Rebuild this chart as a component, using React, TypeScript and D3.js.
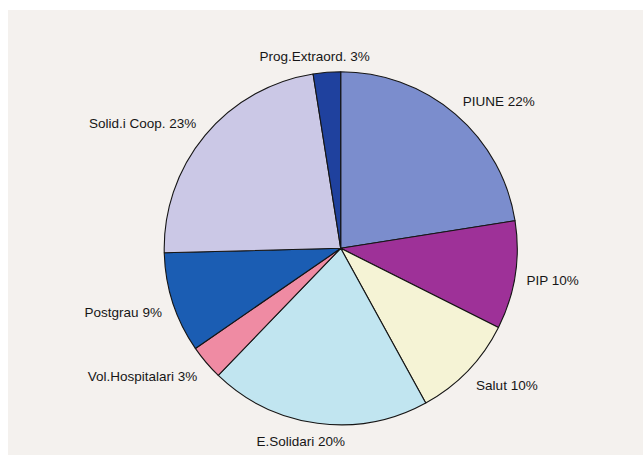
import React from "react";
import * as d3 from "d3";

const categories = ["PIUNE", "PIP", "Salut", "E.Solidari", "Vol.Hospitalari", "Postgrau", "Solid.i Coop.", "Prog.Extraord."];
const values = [22.5, 9.9, 9.6, 20.2, 3.2, 9.2, 22.9, 2.5];
const pctLabels = ["22%", "10%", "10%", "20%", "3%", "9%", "23%", "3%"];
const colors = ["#7b8dcd", "#9e3198", "#f5f3d5", "#c1e5f0", "#ef8ba3", "#1b5db3", "#cbc8e6", "#1f419e"];

const W = 643;
const H = 455;
const FONT = "13.5px 'Liberation Sans', Arial, sans-serif";
const FONT_SIZE = 13.5;

function measure(text: string): number {
  const c = document.createElement("canvas");
  const ctx = c.getContext("2d");
  if (!ctx) return text.length * 7;
  ctx.font = FONT;
  return ctx.measureText(text).width;
}

export default function App() {
  const cx = 340.7;
  const cy = 248.3;
  const r = 176.5;
  const labelR = r + 11.5;

  const pie = d3.pie<number>().sort(null).startAngle(0).endAngle(2 * Math.PI);
  const arcs = pie(values);
  const arcGen = d3.arc<d3.PieArcDatum<number>>().innerRadius(0).outerRadius(r);

  return (
    <svg width={W} height={H} style={{ position: "absolute", left: 0, top: 0, display: "block" }}>
      <rect x={0} y={0} width={W} height={H} fill="#ffffff" />
      <rect x={8} y={10} width={W - 8} height={H - 10} fill="#f4f1ee" />
      <g transform={`translate(${cx},${cy})`}>
        {arcs.map((a, i) => (
          <path key={i} d={arcGen(a) || ""} fill={colors[i]} stroke="#151515" strokeWidth={1.1} strokeLinejoin="round" />
        ))}
      </g>
      {arcs.map((a, i) => {
        const mid = (a.startAngle + a.endAngle) / 2;
        const s = Math.sin(mid);
        const c = Math.cos(mid);
        const px = cx + labelR * s;
        const py = cy - labelR * c;
        const text = `${categories[i]} ${pctLabels[i]}`;
        const w = measure(text);
        const h = FONT_SIZE;
        const fx = Math.max(0, Math.min(1, 0.5 - 1.3 * s));
        const fy = Math.max(0, Math.min(0.8, 0.5 + 1.5 * c));
        const left = px - fx * w;
        const top = py - fy * h;
        const baseline = top + h * 0.82;
        return (
          <text key={i} x={left} y={baseline} fontFamily="'Liberation Sans', Arial, sans-serif" fontSize={FONT_SIZE} fill="#161616">
            {text}
          </text>
        );
      })}
    </svg>
  );
}
